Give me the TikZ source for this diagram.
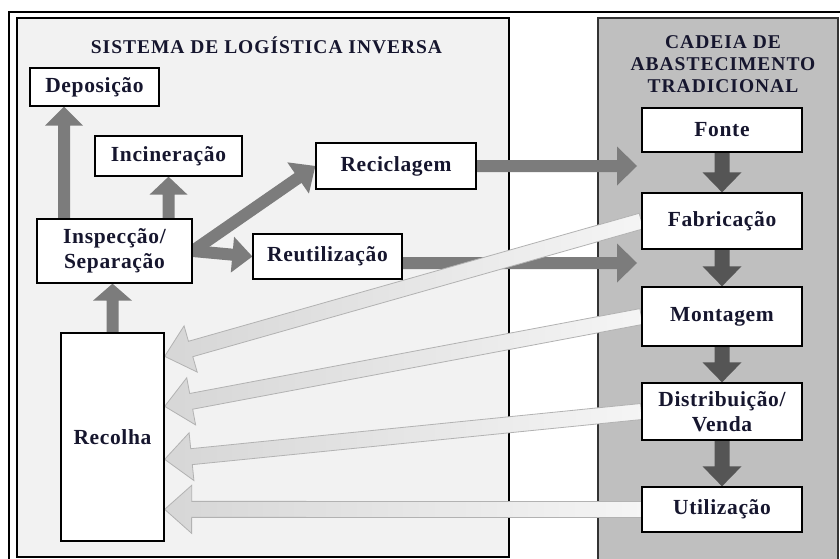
\documentclass[tikz,border=0pt]{standalone}
\usepackage{fontspec}
\setmainfont{Liberation Serif}
\newfontfamily\spacedserif[LetterSpace=5]{Liberation Serif}
\newfontfamily\boxserif[LetterSpace=3]{Liberation Serif}
\usetikzlibrary{calc}

\definecolor{ink}{HTML}{16162E}
\definecolor{panelLight}{HTML}{F2F2F2}
\definecolor{panelDark}{HTML}{BFBFBF}
\definecolor{midArrow}{HTML}{7C7C7C}
\definecolor{darkArrow}{HTML}{555555}

\pgfdeclarelayer{bg}
\pgfdeclarelayer{arr}
\pgfsetlayers{bg,arr,main}

% Block arrow from #2 to #3: half shaft width #4, half head width #5, head length #6
\newcommand\blockarrow[6][]{%
  \coordinate (baH) at ($(#3)!#6!(#2)$);
  \path[#1] ($(#2)!#4!90:(#3)$) -- ($(baH)!#4!90:(#3)$) -- ($(baH)!#5!90:(#3)$)
    -- (#3) -- ($(baH)!#5!-90:(#3)$) -- ($(baH)!#4!-90:(#3)$)
    -- ($(#2)!#4!-90:(#3)$) -- cycle;
}

\tikzset{
  box/.style={draw=black, line width=1.3pt, fill=white, inner sep=0pt,
    font=\boxserif\fontsize{21.5}{25}\selectfont\bfseries, text=ink, align=center},
  paneltitle/.style={font=\spacedserif\fontsize{19.5}{22}\selectfont\bfseries, text=ink, align=center, inner sep=0pt},
  midarr/.style={fill=midArrow},
  darkarr/.style={fill=darkArrow},
  ghostarr/.style={draw=gray!60, line width=0.8pt, left color=gray!32, right color=gray!8},
}

\begin{document}
\begin{tikzpicture}[x=1pt, y=-1pt]
\useasboundingbox (0,0) rectangle (840,559);

% panels
\begin{pgfonlayer}{bg}
  \fill[white] (0,0) rectangle (840,559);
  \draw[line width=1.2pt] (9,12) rectangle (846,566);
  \draw[line width=1.3pt, fill=panelLight] (17,18) rectangle (509,557);
  \draw[line width=1.3pt, draw=black!80, fill=panelDark] (598,18) rectangle (838,566);
\end{pgfonlayer}

% titles
\node[paneltitle] (tl) at (266.5,45) {SISTEMA DE LOGÍSTICA INVERSA};
\node[paneltitle] (tr) at (723,64) {CADEIA DE\\ABASTECIMENTO\\TRADICIONAL};

% reverse logistics nodes
\node[box, minimum width=129pt, minimum height=38pt] (dep)  at (94.5,87)   {Deposição};
\node[box, minimum width=147pt, minimum height=40pt] (inc)  at (168.5,156) {Incineração};
\node[box, minimum width=160pt, minimum height=46pt] (reci) at (396,166)   {Reciclagem};
\node[box, minimum width=155pt, minimum height=64pt] (insp) at (114.5,251) {Inspecção/\\Separação};
\node[box, minimum width=149pt, minimum height=45pt] (reu)  at (327.5,256.5) {Reutilização};
\node[box, minimum width=103pt, minimum height=208pt] (rec) at (112.5,437) {Recolha};

% traditional supply chain nodes
\node[box, minimum width=160pt, minimum height=44pt] (fon)  at (722,130)   {Fonte};
\node[box, minimum width=160pt, minimum height=56pt] (fab)  at (722,221)   {Fabricação};
\node[box, minimum width=160pt, minimum height=59pt] (mon)  at (722,316.5) {Montagem};
\node[box, minimum width=160pt, minimum height=57pt] (dis)  at (722,411.5) {Distribuição/\\Venda};
\node[box, minimum width=160pt, minimum height=45pt] (uti)  at (722,509.5) {Utilização};

% helper coordinates for arrow ends
\coordinate (depX) at (64,0);
\coordinate (tipX) at (637,0);
\coordinate (reuOut) at ($(reu.east)+(0,6.5)$);
\coordinate (reuIn) at (reuOut -| tipX);
\coordinate (reciIn) at (reci.east -| tipX);
\coordinate (recA) at ($(rec.north east)+(0,24)$);
\coordinate (recB) at ($(rec.north east)+(0,74)$);
\coordinate (recC) at ($(rec.north east)+(0,127)$);
\coordinate (recD) at ($(rec.north east)+(0,177)$);
\coordinate (depFrom) at (insp.north -| depX);
\coordinate (depTo) at (dep.south -| depX);
\coordinate (incFrom) at (insp.north -| inc.south);
\coordinate (inspIn) at (insp.south -| rec.north);

\begin{pgfonlayer}{arr}
  % flows inside the reverse logistics system
  \blockarrow[midarr]{depFrom}{depTo}{6pt}{19pt}{19pt}
  \blockarrow[midarr]{incFrom}{inc.south}{6pt}{19pt}{18pt}
  \blockarrow[midarr]{rec.north}{inspIn}{6pt}{19.5pt}{17pt}
  \blockarrow[midarr]{insp.east}{reci.west}{6pt}{19pt}{21pt}
  \blockarrow[midarr]{insp.east}{reu.west}{6pt}{18pt}{20pt}
  \blockarrow[midarr]{reci.east}{reciIn}{6pt}{19.5pt}{20pt}
  \blockarrow[midarr]{reuOut}{reuIn}{6pt}{19.5pt}{20pt}
  % forward supply chain
  \blockarrow[darkarr]{fon.south}{fab.north}{7.5pt}{19.5pt}{20pt}
  \blockarrow[darkarr]{fab.south}{mon.north}{7.5pt}{19.5pt}{20pt}
  \blockarrow[darkarr]{mon.south}{dis.north}{7.5pt}{19.5pt}{20pt}
  \blockarrow[darkarr]{dis.south}{uti.north}{7.5pt}{19.5pt}{20pt}
  % returns to collection
  \blockarrow[ghostarr]{fab.west}{recA}{8pt}{24pt}{27pt}
  \blockarrow[ghostarr]{mon.west}{recB}{8pt}{24pt}{27pt}
  \blockarrow[ghostarr]{dis.west}{recC}{8pt}{24pt}{27pt}
  \blockarrow[ghostarr]{uti.west}{recD}{8pt}{24pt}{27pt}
\end{pgfonlayer}
\end{tikzpicture}
\end{document}
